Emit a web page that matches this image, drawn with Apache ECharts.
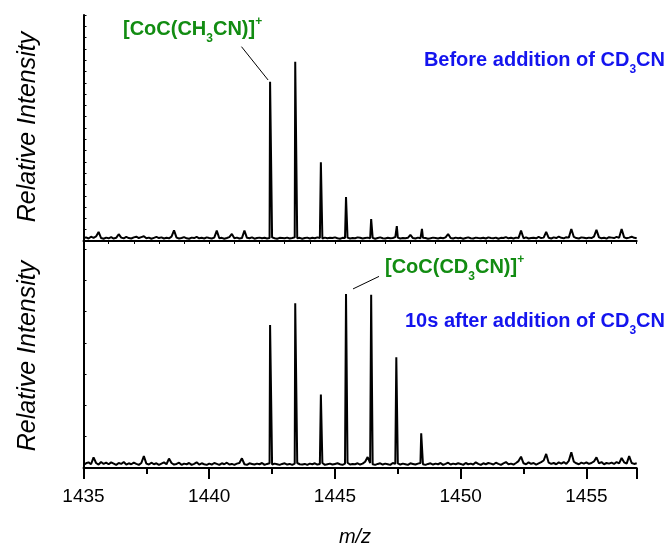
<!DOCTYPE html>
<html>
<head>
<meta charset="utf-8">
<script src="https://cdn.jsdelivr.net/npm/echarts@6/dist/echarts.min.js"></script>
<style>
  html, body { margin: 0; padding: 0; background: #fff; }
  #chart { width: 667px; height: 551px; }
</style>
</head>
<body>
<div id="chart"></div>
<script>
// m/z axis range and ticks
const mzMin = 1435;
const mzMax = 1457;
const mzStep = 0.1;          // sampling step of the baseline traces
const mzTickLabels = [1435, 1440, 1445, 1450, 1455];

// Baseline (noise) intensity, one value per 0.1 m/z from 1435.0 to 1457.0 — before CD3CN
const noiseBefore = [
  1.2, 1.6, 1.1, 1.9, 1.4, 2.0, 4.0, 1.3, 1.0, 1.5,
  1.2, 1.7, 1.1, 1.4, 3.0, 1.5, 1.2, 1.8, 1.3, 1.1,
  1.6, 1.9, 1.3, 1.7, 2.1, 1.2, 1.5, 1.0, 1.4, 1.8,
  1.3, 1.6, 1.1, 1.4, 1.2, 1.9, 4.7, 1.5, 1.1, 1.3,
  1.7, 1.2, 1.0, 1.5, 1.3, 1.8, 1.2, 1.4, 1.1, 1.6,
  1.3, 1.1, 1.5, 4.6, 1.2, 1.4, 1.0, 1.3, 1.7, 3.1,
  1.2, 1.5, 1.1, 1.3, 4.6, 1.4, 1.2, 1.6, 1.0, 1.3,
  1.5, 1.2, 1.4, 1.1, 1.3, 1.6, 1.2, 1.0, 1.4, 1.3,
  1.2, 1.5, 1.1, 1.3, 1.6, 1.2, 1.4, 1.0, 1.3, 1.5,
  1.1, 1.4, 1.2, 1.6, 1.3, 1.1, 1.5, 1.2, 1.4, 1.3,
  1.6, 1.2, 1.0, 1.4, 1.3, 1.5, 1.1, 1.3, 1.2, 1.6,
  1.4, 1.1, 1.3, 1.5, 1.2, 1.4, 1.0, 1.3, 1.6, 1.2,
  1.1, 1.4, 1.2, 1.3, 1.7, 1.5, 1.1, 1.3, 1.2, 1.4,
  2.7, 1.3, 1.1, 1.5, 1.2, 1.4, 1.3, 1.0, 1.2, 1.5,
  1.3, 1.1, 1.4, 1.2, 1.6, 3.1, 1.3, 1.1, 1.5, 1.2,
  1.4, 1.0, 1.3, 1.6, 1.2, 1.1, 1.5, 1.3, 1.2, 1.4,
  1.1, 1.6, 1.3, 1.2, 1.5, 1.0, 1.4, 1.3, 1.7, 1.2,
  1.4, 1.1, 1.5, 1.3, 4.6, 1.2, 1.6, 1.1, 1.3, 1.4,
  1.2, 1.8, 1.3, 1.5, 4.0, 1.4, 1.1, 1.6, 1.3, 1.9,
  1.4, 1.2, 1.7, 1.5, 5.3, 1.8, 1.3, 1.1, 1.6, 1.4,
  1.2, 1.5, 1.3, 1.9, 4.9, 1.6, 1.2, 1.4, 1.1, 1.7,
  1.5, 1.3, 1.8, 1.4, 5.3, 1.6, 1.2, 1.5, 1.9, 1.4,
  1.2
];

// Isotope peaks before CD3CN: [m/z, intensity]
const peaksBefore = [
  [1442.42, 70.5],
  [1443.42, 79.3],
  [1444.44, 34.8],
  [1445.44, 19.5],
  [1446.44, 9.7],
  [1447.46, 6.6],
  [1448.46, 5.4]
];

// Baseline (noise) intensity 10 s after CD3CN, same 0.1 m/z sampling
const noiseAfter = [
  1.0, 1.5, 1.8, 1.2, 3.4, 1.6, 1.1, 1.9, 1.3, 1.7,
  1.2, 1.8, 1.4, 1.0, 1.6, 1.3, 1.9, 1.1, 1.5, 1.2,
  1.7, 1.3, 1.0, 1.6, 3.8, 1.4, 1.1, 1.7, 1.2, 1.5,
  1.0, 1.4, 1.8, 1.2, 3.0, 1.6, 1.1, 1.3, 1.7, 1.0,
  1.4, 1.2, 1.6, 1.0, 1.3, 1.8, 1.1, 1.5, 1.2, 1.0,
  1.4, 1.1, 1.6, 1.3, 1.0, 1.5, 1.2, 1.7, 1.1, 1.3,
  1.0, 1.4, 1.6, 3.1, 1.2, 1.0, 1.5, 1.3, 1.1, 1.4,
  1.2, 1.6, 1.0, 1.3, 1.5, 1.1, 1.4, 1.2, 1.0, 1.3,
  1.5, 1.1, 1.3, 1.0, 1.4, 1.6, 1.2, 1.1, 1.3, 1.0,
  1.4, 1.2, 1.5, 1.1, 1.3, 1.6, 1.0, 1.2, 1.4, 1.1,
  1.3, 1.5, 1.2, 1.0, 1.4, 1.7, 1.1, 1.3, 1.2, 1.5,
  1.1, 1.4, 2.0, 3.5, 1.6, 1.2, 1.0, 1.3, 1.5, 1.1,
  1.4, 1.2, 1.0, 1.6, 1.3, 1.5, 1.1, 1.4, 1.2, 1.0,
  1.5, 1.3, 1.1, 1.4, 1.6, 1.2, 1.0, 1.3, 1.5, 1.1,
  1.4, 1.2, 1.6, 1.0, 1.3, 1.7, 1.1, 1.4, 1.2, 1.5,
  1.3, 1.0, 1.6, 1.2, 1.4, 1.1, 1.8, 1.3, 1.0, 1.5,
  1.2, 1.6, 1.4, 1.1, 1.7, 1.3, 1.0, 1.5, 1.9, 1.2,
  1.4, 1.1, 1.6, 2.2, 3.6, 1.5, 1.2, 1.8, 1.3, 1.6,
  1.1, 1.5, 1.9, 2.4, 4.5, 1.7, 1.3, 1.6, 1.2, 1.8,
  1.4, 1.9, 1.3, 2.3, 5.0, 2.0, 1.5, 1.2, 1.7, 1.4,
  1.8, 1.3, 1.6, 2.1, 3.4, 1.5, 1.9, 1.2, 1.6, 1.4,
  1.7, 1.3, 1.9, 1.5, 3.2, 1.8, 1.4, 3.8, 1.6, 1.3,
  1.5
];

// Isotope peaks 10 s after CD3CN: [m/z, intensity]
const peaksAfter = [
  [1442.42, 45.7],
  [1443.42, 52.6],
  [1444.44, 23.5],
  [1445.44, 55.6],
  [1446.44, 55.3],
  [1447.44, 35.4],
  [1448.43, 11.1]
];

// Intensity scales of the two panels
const yMaxBefore = 100, yTickBefore = 5;
const yMaxAfter = 72.5, yTickAfter = 10;

// Peak that each formula label points at
const labelPeakBefore = peaksBefore[0];
const labelPeakAfter = peaksAfter[3];

// Merge the sampled baseline with the peak apexes into one sorted trace
function buildTrace(noise, peaks) {
  const pts = noise.map((v, i) => [+(mzMin + i * mzStep).toFixed(2), v]);
  return pts.concat(peaks.map(p => [p[0], p[1]])).sort((a, b) => a[0] - b[0]);
}

const GREEN = '#128c12';
const BLUE = '#1414ee';
const FONT = '"Liberation Sans", Arial, Helvetica, sans-serif';

const gridLeft = 83.5, gridRight = 30.3;

const chart = echarts.init(document.getElementById('chart'), null, { renderer: 'canvas' });

const axisLine = { show: true, lineStyle: { color: '#000', width: 2 } };

chart.setOption({
  animation: false,
  backgroundColor: '#fff',
  grid: [
    { left: gridLeft, right: gridRight, top: 15, height: 226 },
    { left: gridLeft, right: gridRight, top: 241, height: 227 }
  ],
  xAxis: [
    {
      type: 'value', gridIndex: 0, min: mzMin, max: mzMax, interval: 1,
      axisLine: axisLine,
      axisTick: { show: true, inside: false, length: 3, lineStyle: { color: '#000', width: 1 } },
      axisLabel: { show: false },
      splitLine: { show: false }
    },
    {
      type: 'value', gridIndex: 1, min: mzMin, max: mzMax, interval: 5,
      axisLine: axisLine,
      axisTick: { show: true, inside: false, length: 11, lineStyle: { color: '#000', width: 2 } },
      minorTick: { show: true, splitNumber: 2, length: 6, lineStyle: { color: '#000', width: 2 } },
      axisLabel: {
        show: true, margin: 19, color: '#000', fontSize: 19, fontFamily: FONT,
        customValues: mzTickLabels,
        formatter: v => String(v)
      },
      splitLine: { show: false }
    }
  ],
  yAxis: [
    {
      type: 'value', gridIndex: 0, min: 0, max: yMaxBefore, interval: yTickBefore,
      axisLine: axisLine,
      axisTick: { show: true, inside: true, length: 3, lineStyle: { color: '#000', width: 1 } },
      axisLabel: { show: false },
      splitLine: { show: false }
    },
    {
      type: 'value', gridIndex: 1, min: 0, max: yMaxAfter, interval: yTickAfter,
      axisLine: axisLine,
      axisTick: { show: true, inside: true, length: 3, lineStyle: { color: '#000', width: 1 } },
      axisLabel: { show: false },
      splitLine: { show: false }
    }
  ],
  series: [
    {
      type: 'line', xAxisIndex: 0, yAxisIndex: 0,
      data: buildTrace(noiseBefore, peaksBefore),
      showSymbol: false, symbol: 'none',
      lineStyle: { color: '#000', width: 2 }
    },
    {
      type: 'line', xAxisIndex: 1, yAxisIndex: 1,
      data: buildTrace(noiseAfter, peaksAfter),
      showSymbol: false, symbol: 'none',
      lineStyle: { color: '#000', width: 2 }
    }
  ]
});

// Rich-text styles for formulas with sub/superscripts
function richStyles(color) {
  return {
    m: { fontSize: 20, fontWeight: 'bold', fontFamily: FONT, color: color, lineHeight: 20, padding: [4, 0, 0, 0], verticalAlign: 'top' },
    s: { fontSize: 12, fontWeight: 'bold', fontFamily: FONT, color: color, lineHeight: 12, padding: [18, 0, 0, 0], verticalAlign: 'top' },
    p: { fontSize: 12, fontWeight: 'bold', fontFamily: FONT, color: color, lineHeight: 12, padding: [1, 0, 0, 0], verticalAlign: 'top' }
  };
}

function formulaText(x, y, text, color, align) {
  return {
    type: 'text', x: x, y: y, z: 100,
    style: {
      text: text, rich: richStyles(color),
      align: align, verticalAlign: 'top',
      fill: color, font: 'bold 20px ' + FONT
    }
  };
}

const pBefore = chart.convertToPixel({ xAxisIndex: 0, yAxisIndex: 0 }, labelPeakBefore);
const pAfter = chart.convertToPixel({ xAxisIndex: 1, yAxisIndex: 1 }, labelPeakAfter);

chart.setOption({
  graphic: [
    // axis titles
    {
      type: 'text', x: 28, y: 127, rotation: Math.PI / 2,
      style: { text: 'Relative Intensity', font: 'italic 25px ' + FONT, fill: '#000', align: 'center', verticalAlign: 'middle' }
    },
    {
      type: 'text', x: 28, y: 356, rotation: Math.PI / 2,
      style: { text: 'Relative Intensity', font: 'italic 25px ' + FONT, fill: '#000', align: 'center', verticalAlign: 'middle' }
    },
    {
      type: 'text', x: 355, y: 537,
      style: { text: 'm/z', font: 'italic 20px ' + FONT, fill: '#000', align: 'center', verticalAlign: 'middle' }
    },
    // leader lines from the formula labels to their peaks
    {
      type: 'line', z: 100,
      shape: { x1: pBefore[0] - 28.6, y1: pBefore[1] - 35, x2: pBefore[0] - 2, y2: pBefore[1] - 1.7 },
      style: { stroke: '#000', lineWidth: 1 }
    },
    {
      type: 'line', z: 100,
      shape: { x1: pAfter[0] + 7, y1: pAfter[1] - 5, x2: pAfter[0] + 33, y2: pAfter[1] - 17.5 },
      style: { stroke: '#000', lineWidth: 1 }
    },
    // formula and condition labels
    formulaText(123, 15, '{m|[CoC(CH}{s|3}{m|CN)]}{p|+}', GREEN, 'left'),
    formulaText(665, 46, '{m|Before addition of CD}{s|3}{m|CN}', BLUE, 'right'),
    formulaText(385, 253, '{m|[CoC(CD}{s|3}{m|CN)]}{p|+}', GREEN, 'left'),
    formulaText(665, 307, '{m|10s after addition of CD}{s|3}{m|CN}', BLUE, 'right')
  ]
});
</script>
</body>
</html>
